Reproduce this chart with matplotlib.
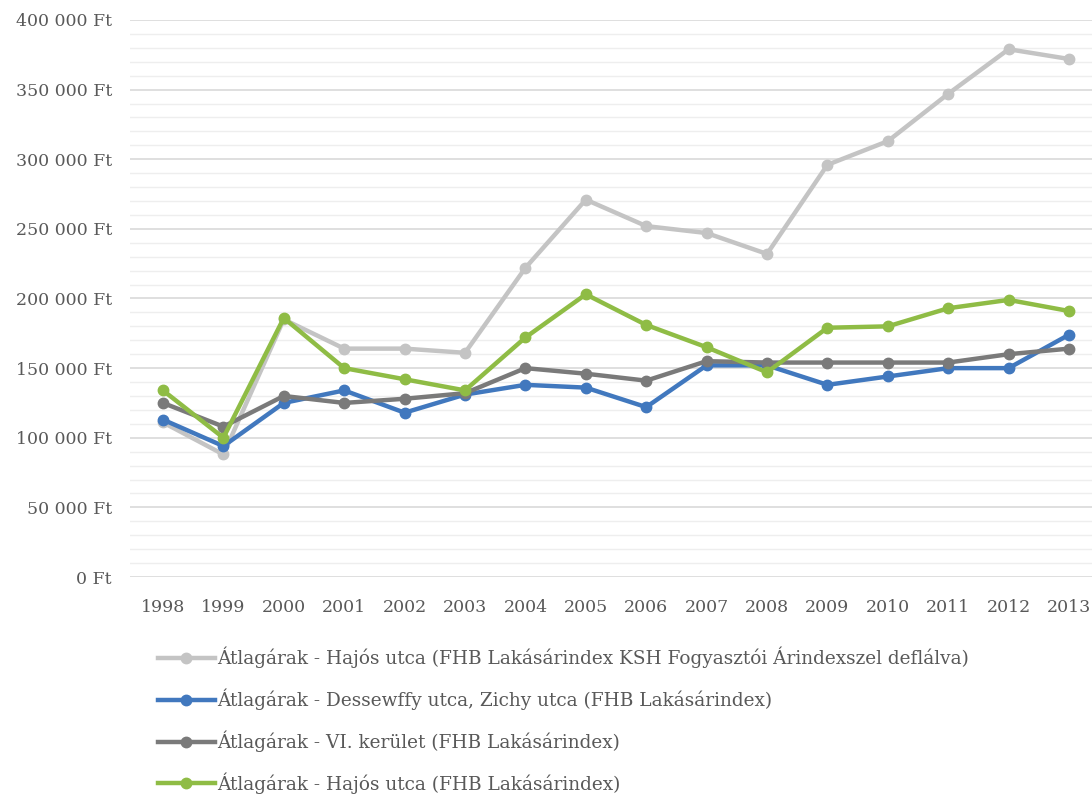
import matplotlib
matplotlib.use('Agg')
import matplotlib.pyplot as plt
from matplotlib.ticker import MultipleLocator, FuncFormatter

# --- Data -------------------------------------------------------------------------------------------------------------
years = ['1998', '1999', '2000', '2001', '2002', '2003', '2004', '2005',
         '2006', '2007', '2008', '2009', '2010', '2011', '2012', '2013']

hajos_deflalt = [111000, 88000, 185000, 164000, 164000, 161000, 222000, 271000,
                 252000, 247000, 232000, 296000, 313000, 347000, 379000, 372000]
dessewffy = [113000, 94000, 125000, 134000, 118000, 131000, 138000, 136000,
             122000, 152000, 152000, 138000, 144000, 150000, 150000, 174000]
vi_kerulet = [125000, 108000, 130000, 125000, 128000, 132000, 150000, 146000,
              141000, 155000, 154000, 154000, 154000, 154000, 160000, 164000]
hajos = [134000, 100000, 186000, 150000, 142000, 134000, 172000, 203000,
         181000, 165000, 147000, 179000, 180000, 193000, 199000, 191000]

labels = ['Átlagárak - Hajós utca (FHB Lakásárindex KSH Fogyasztói Árindexszel deflálva)',
          'Átlagárak - Dessewffy utca, Zichy utca (FHB Lakásárindex)',
          'Átlagárak - VI. kerület (FHB Lakásárindex)',
          'Átlagárak - Hajós utca (FHB Lakásárindex)']
colors = ['#c4c4c4', '#4178be', '#7a7a7a', '#8fbc45']

# --- Plot -------------------------------------------------------------------------------------------------------------
plt.rcParams['font.family'] = ['DejaVu Serif']
text_color = '#595959'

fig = plt.figure(figsize=(10.92, 7.98), dpi=100)
ax = fig.add_axes([130 / 1092, 221 / 798, 962 / 1092, 557 / 798])

x = list(range(len(years)))
for series, label, color in zip([hajos_deflalt, dessewffy, vi_kerulet, hajos], labels, colors):
    ax.plot(x, series, color=color, lw=3.2, marker='o', ms=7.5, label=label, solid_joinstyle='round')

ax.set_xlim(-0.546, 15.38)
ax.set_ylim(0, 400000)
ax.set_xticks(x)
ax.set_xticklabels(years)
ax.yaxis.set_major_locator(MultipleLocator(50000))
ax.yaxis.set_minor_locator(MultipleLocator(10000))
ax.yaxis.set_major_formatter(FuncFormatter(lambda v, p: f'{v:,.0f}'.replace(',', ' ') + ' Ft'))

ax.grid(axis='y', which='major', color='#d9d9d9', lw=1.2)
ax.grid(axis='y', which='minor', color='#eeeeee', lw=1)
ax.set_axisbelow(True)
for s in ax.spines.values():
    s.set_visible(False)
ax.tick_params(axis='both', which='both', length=0, labelsize=12.5, labelcolor=text_color)
ax.tick_params(axis='x', pad=16)
ax.tick_params(axis='y', pad=13)

fig.legend(loc='upper left', bbox_to_anchor=(158 / 1092, 1 - 647 / 798), frameon=False,
           fontsize=13.3, labelcolor=text_color, handlelength=3.08, handletextpad=0.12,
           labelspacing=1.1, borderpad=0, borderaxespad=0)

plt.savefig('out.png', dpi=100)
